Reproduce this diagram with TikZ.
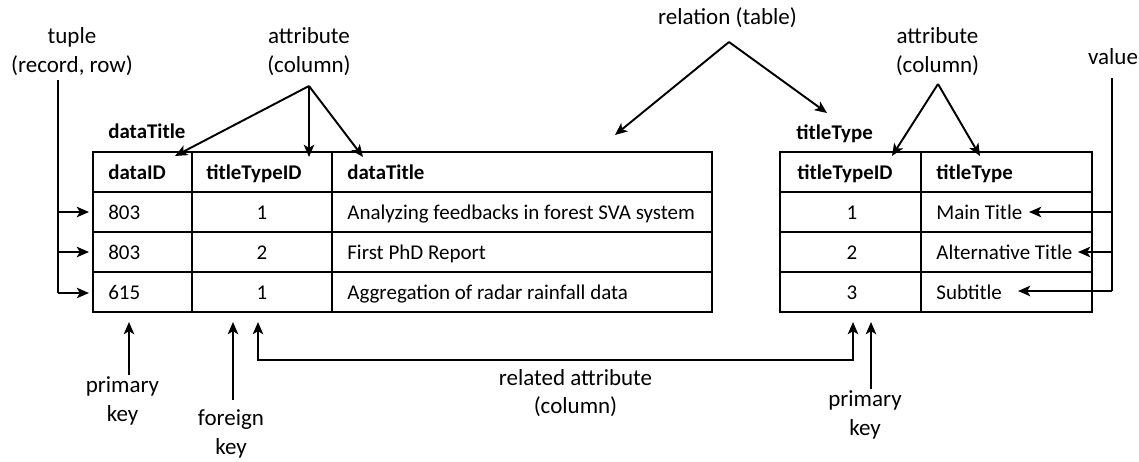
\documentclass[tikz,border=0pt]{standalone}
\usepackage{fontspec}
\setmainfont{Carlito}
\usetikzlibrary{arrows.meta}
\begin{document}
\begin{tikzpicture}[x=0.02cm,y=-0.02cm,
  txt/.style={font=\fontsize{13.1}{16.2}\selectfont, inner sep=0pt, align=center},
  hd/.style={font=\fontsize{11.9}{14}\selectfont\bfseries, inner sep=0pt},
  cl/.style={font=\fontsize{11.95}{14}\selectfont, inner sep=0pt},
  tbl/.style={line width=1.1pt},
  arr/.style={line width=1.1pt, -{Stealth[length=7pt,width=6pt,inset=1.8pt]}},
  ln/.style={line width=1.1pt}]
\useasboundingbox (0,0) rectangle (1139,461);
% left table
\draw[tbl] (93,152) rectangle (712,312);
\foreach \y in {192,232,272} \draw[tbl] (93,\y) -- (712,\y);
\draw[tbl] (192,152) -- (192,312);
\draw[tbl] (332,152) -- (332,312);
% right table
\draw[tbl] (780,152) rectangle (1092,312);
\foreach \y in {192,232,272} \draw[tbl] (780,\y) -- (1092,\y);
\draw[tbl] (921,152) -- (921,312);
% table names
\node[hd, anchor=base west] (ln1) at (108,138) {dataTitle};
\node[hd, anchor=base west] (ln2) at (796,139) {titleType};
% left headers
\node[hd, anchor=base west] (h1) at (108,179) {dataID};
\node[hd, anchor=base west] (h2) at (206,179) {titleTypeID};
\node[hd, anchor=base west] (h3) at (347,179) {dataTitle};
% left rows
\node[cl, anchor=base west] (a1) at (108,219) {803};
\node[cl, anchor=base] (b1) at (262,219) {1};
\node[cl, anchor=base west] (t1) at (347,219) {Analyzing feedbacks in forest SVA system};
\node[cl, anchor=base west] (a2) at (108,259) {803};
\node[cl, anchor=base] (b2) at (262,259) {2};
\node[cl, anchor=base west] (t2) at (347,259) {First PhD Report};
\node[cl, anchor=base west] (a3) at (108,299) {615};
\node[cl, anchor=base] (b3) at (262,299) {1};
\node[cl, anchor=base west] (t3) at (347,299) {Aggregation of radar rainfall data};
% right headers
\node[hd, anchor=base west] (rh1) at (797,179) {titleTypeID};
\node[hd, anchor=base west] (rh2) at (936,179) {titleType};
\node[cl, anchor=base] (r1) at (852,219) {1};
\node[cl, anchor=base west] (s1) at (936,219) {Main Title};
\node[cl, anchor=base] (r2) at (852,259) {2};
\node[cl, anchor=base west] (s2) at (936,259) {Alternative Title};
\node[cl, anchor=base] (r3) at (852,299) {3};
\node[cl, anchor=base west] (s3) at (936,299) {Subtitle};
% labels
\node[txt] (tuple) at (72,51.5) {tuple\\(record, row)};
\node[txt] (attr1) at (309,51.5) {attribute\\(column)};
\node[txt] (rel) at (727.5,18) {relation (table)};
\node[txt] (attr2) at (937.5,51.5) {attribute\\(column)};
\node[txt] (val) at (1113,57) {value};
\node[txt] (pk1) at (122.5,401) {primary\\key};
\node[txt] (fk) at (231,434) {foreign\\key};
\node[txt] (ra) at (575.5,393) {related attribute\\(column)};
\node[txt] (pk2) at (865,415) {primary\\key};
% coordinates
\coordinate (tp) at (58,80);
\coordinate (tr1) at (89,212); \coordinate (tr2) at (89,252); \coordinate (tr3) at (89,293);
\coordinate (ap1) at (309,86);
\coordinate (ae1) at (175,156); \coordinate (ae2) at (309,157); \coordinate (ae3) at (363,157);
\coordinate (rp) at (729,42);
\coordinate (re1) at (615,135); \coordinate (re2) at (827,113);
\coordinate (ap2) at (938,84);
\coordinate (af1) at (892,156); \coordinate (af2) at (980,156);
\coordinate (vp) at (1112,78);
\coordinate (ve1) at (1029,212); \coordinate (ve2) at (1078,252); \coordinate (ve3) at (1018,291);
\coordinate (pk1s) at (129,375); \coordinate (pk1e) at (129,322);
\coordinate (fks) at (233,400); \coordinate (fke) at (233,322);
\coordinate (raL) at (258,322); \coordinate (raR) at (853,322);
\coordinate (pk2s) at (871,389); \coordinate (pk2e) at (871,322);
% tuple arrows
\draw[ln] (tp) -- (58,293);
\draw[arr] (58,212) -- (tr1);
\draw[arr] (58,252) -- (tr2);
\draw[arr] (58,293) -- (tr3);
% attribute arrows
\draw[arr] (ap1) -- (ae1);
\draw[arr] (ap1) -- (ae2);
\draw[arr] (ap1) -- (ae3);
% relation
\draw[arr] (rp) -- (re1);
\draw[arr] (rp) -- (re2);
% attribute right
\draw[arr] (ap2) -- (af1);
\draw[arr] (ap2) -- (af2);
% value
\draw[ln] (vp) -- (1112,291);
\draw[arr] (1112,212) -- (ve1);
\draw[arr] (1112,252) -- (ve2);
\draw[arr] (1112,291) -- (ve3);
% keys
\draw[arr] (pk1s) -- (pk1e);
\draw[arr] (fks) -- (fke);
\draw[arr] (pk2s) -- (pk2e);
\draw[arr] (raR |- 0,360) -- (raL |- 0,360) -- (raL);
\draw[arr] (raL |- 0,360) -- (raR |- 0,360) -- (raR);
\end{tikzpicture}
\end{document}
